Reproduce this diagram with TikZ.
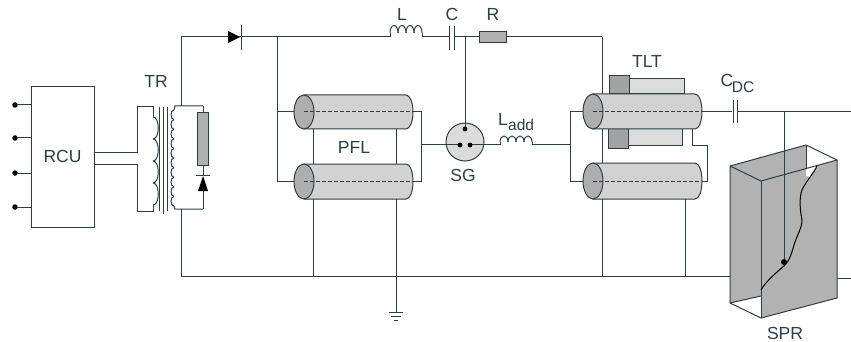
\documentclass[tikz,border=0pt]{standalone}
\usepackage{fontspec}
\setmainfont{Liberation Sans}
\definecolor{wire}{HTML}{2C3E46}
\definecolor{resgray}{HTML}{AFAFAF}
\definecolor{cylgray}{HTML}{D2D2D2}
\definecolor{capgray}{HTML}{AEAEAE}
\definecolor{sleevedark}{HTML}{A2A2A2}
\definecolor{sleevelight}{HTML}{DCDCDC}
\definecolor{sprgray}{HTML}{B2B2B2}
\tikzset{
  cable/.style={draw=wire,line width=1pt},
  lbl/.style={text=wire,font=\fontsize{17.5}{17.5}\selectfont,inner sep=0pt},
  resistor/.style={draw=wire,line width=0.95pt,fill=resgray,inner sep=0pt},
  block/.style={draw=wire,line width=1pt,fill=white,inner sep=0pt},
  dotnode/.style={circle,fill=black,inner sep=0pt,minimum size=4.8pt},
  axis/.style={draw=wire,line width=1pt,dashed,dash pattern=on 4pt off 2pt},
  plate/.style={draw=wire,line width=1pt}
}
% horizontal scallops: start x, base y, bump width, count
\newcommand{\hcoil}[5]{%
  \foreach \i in {1,...,#4}{%
    \pgfmathsetmacro{\xa}{#1+(\i-1)*#3}\pgfmathsetmacro{\xb}{#1+\i*#3}%
    \draw[cable] (\xa,#2) .. controls (\xa,#2-#5) and (\xb,#2-#5) .. (\xb,#2);}}
% vertical scallops: x, start y, bump height, count, bulge (signed)
\newcommand{\vcoil}[5]{%
  \foreach \i in {1,...,#4}{%
    \pgfmathsetmacro{\ya}{#2+(\i-1)*#3}\pgfmathsetmacro{\yb}{#2+\i*#3}%
    \draw[cable] (#1,\ya) .. controls (#1+#5,\ya) and (#1+#5,\yb) .. (#1,\yb);}}
% cylinder: left-centre x, right x, centre y, half height
\newcommand{\cylinder}[4]{%
  \pgfmathsetmacro{\yt}{#3-#4}\pgfmathsetmacro{\yb}{#3+#4}%
  \pgfmathsetmacro{\xs}{#2-7}\pgfmathsetmacro{\xc}{#2-3}%
  \pgfmathsetmacro{\yu}{#3-#4*0.55}\pgfmathsetmacro{\yl}{#3+#4*0.55}%
  \draw[cable,fill=cylgray] (#1,\yt) -- (\xs,\yt) .. controls (\xc,\yt) and (#2,\yu) .. (#2,#3)
     .. controls (#2,\yl) and (\xc,\yb) .. (\xs,\yb) -- (#1,\yb) -- cycle;
  \draw[cable,fill=capgray] (#1,#3) ellipse [x radius=10,y radius=#4];}
\begin{document}
\begin{tikzpicture}[x=1pt,y=-1pt]
\useasboundingbox (0,0) rectangle (851,342);
% control unit and inputs
\node[block,minimum width=63pt,minimum height=140pt] (rcu) at (62.5,157) {};
\node[lbl] (rcutxt) at (62.5,156) {RCU};
\foreach \n/\y in {a/105,b/138,c/173,d/207}{
  \node[dotnode,minimum size=5.5pt] (in\n) at (15,\y) {};
  \draw[cable] (in\n) -- (in\n -| rcu.west);
}
% transformer
\coordinate (pt) at (153,107); \coordinate (pb) at (153,211);
\coordinate (ra) at (94,152); \coordinate (rb) at (94,164);
\draw[cable] (ra) -- (137,152) -- (137,107) -- (pt) -- (153,117);
\draw[cable] (rb) -- (137,164) -- (137,211) -- (pb) -- (153,205);
\vcoil{153}{117}{22}{4}{7}
\draw[cable] (159.5,107) -- (159.5,211);
\draw[cable] (163.5,107) -- (163.5,214);
\draw[cable] (167,107) -- (167,211);
\vcoil{174}{110}{9.6}{10}{-4}
\coordinate (st) at (181,106); \coordinate (sb) at (181,209);
\coordinate (cr) at (203,106); \coordinate (dr) at (203,209);
\draw[cable] (174,110) -- (175,106) -- (cr);
\draw[cable] (174,206) -- (175,209) -- (dr);
\node[resistor,minimum width=11pt,minimum height=53pt] (rs) at (203,138.5) {};
\draw[cable] (cr) -- (rs.north);
\draw[cable] (rs.south) -- (203,176);
\draw[cable] (203,190) -- (dr);
\fill[black] (203,176) -- (208,191) -- (198,191) -- cycle;
\draw[plate] (196,175.5) -- (210,175.5);
\node[lbl] (trl) at (156,81) {TR};
% top line
\coordinate (tl) at (181,37); \coordinate (jb) at (277,37);
\coordinate (bl) at (181,276); \coordinate (sprl) at (730,276);
\draw[cable] (st) -- (tl) -- (390,37) -- (390,33);
\fill[black] (228,31) -- (240,37) -- (228,43) -- cycle;
\draw[plate] (241,25) -- (241,50);
\hcoil{390}{33}{8}{4}{10}
\draw[cable] (422,33) -- (422,37) -- (449,37);
\draw[plate] (449.5,26) -- (449.5,50);
\draw[plate] (454.5,26) -- (454.5,50);
\node[resistor,minimum width=27pt,minimum height=11pt] (rr) at (492.5,37) {};
\draw[cable] (454.5,37) -- (rr.west);
\coordinate (tc) at (602.1,37);
\draw[cable] (rr.east) -- (tc);
\draw[cable] (tc) -- (602.1,276);
\node[lbl] (ll) at (402,14) {L};
\node[lbl] (cl) at (452,14) {C};
\node[lbl] (rl) at (493,14) {R};
% bus and return line
\draw[cable] (sb) -- (bl) -- (sprl);
\draw[cable] (jb) -- (277,181) -- (304,181);
\draw[cable] (277,112) -- (304,112);
\foreach \x in {313,396}{\draw[cable] (\x,129) -- (\x,276);}
\draw[cable] (396,276) -- (396,312);
\draw[cable] (389,312) -- (403,312);
\draw[cable] (391,316) -- (401,316);
\draw[cable] (394,320) -- (398,320);
% PFL
\cylinder{304}{413}{112}{17}
\cylinder{304}{413}{181.5}{17.5}
\draw[axis] (304,112) -- (413,112);
\draw[axis] (304,181.5) -- (413,181.5);
\draw[cable] (413,112) -- (421,112) -- (421,181.5) -- (413,181.5);
\node[lbl] (pfl) at (354,147) {PFL};
% spark gap
\node[circle,draw=wire,line width=1pt,fill=cylgray!80,minimum size=38pt,inner sep=0pt] (sg) at (465,142) {};
\draw[cable] (421,145) -- (460,145);
\draw[cable] (465,37) -- (465,129);
\draw[cable] (470,145) -- (500,145) -- (500,142);
\node[dotnode] (ea) at (465,129) {};
\node[dotnode] (eb) at (460,145) {};
\node[dotnode] (ec) at (470,145) {};
\node[lbl] (sgl) at (463,175) {SG};
\hcoil{500}{142}{8}{4}{8}
\draw[cable] (532,142) -- (532,145) -- (570,145);
\node[lbl,anchor=west] (ladd) at (498,119) {L};
\node[lbl,anchor=west,font=\fontsize{15.5}{15.5}\selectfont] (laddb) at (508,125) {add};
% TLT
\draw[cable] (685,199) -- (685,276);
\draw[cable] (593,112) -- (570,112) -- (570,181) -- (593,181);
\draw[cable,fill=sleevelight] (629,79) rectangle (684,94);
\draw[cable,fill=sleevedark] (609,76) rectangle (629,94);
\draw[cable,fill=sleevelight] (628,129) rectangle (682,146);
\draw[cable,fill=sleevedark] (608,129) rectangle (628,148);
\draw[cable] (692,129) -- (692,146) -- (707,146) -- (707,181) -- (700,181);
\cylinder{593}{702}{111.5}{17.5}
\cylinder{593}{702}{181}{18}
\draw[axis] (593,112) -- (702,112);
\draw[axis] (593,181) -- (700,181);
\node[lbl] (tlt) at (647,61) {TLT};
\draw[cable] (702,112) -- (732,112);
\draw[plate] (733,100) -- (733,123);
\draw[plate] (737.5,100) -- (737.5,123);
\draw[cable] (737.5,112) -- (851,112);
\node[lbl] (cdc) at (727,80) {C};
\node[lbl,font=\fontsize{15.5}{15.5}\selectfont] (cdcb) at (743,87) {DC};
% SPR
\draw[cable] (837,278) -- (851,278);
\fill[sprgray] (730,166) -- (806,145) -- (837,160) -- (837,298) -- (761,318) -- (730,303) -- cycle;
\fill[white] (806,145) -- (837,160) -- (806,168.5) -- cycle;
\fill[white] (730,303) -- (761,296) -- (761,318) -- cycle;
\fill[white] (806,168.5) -- (817,165.5) .. controls (816,170) and (813,174) .. (810,177) -- (806,176) -- cycle;
\draw[cable] (784,112) -- (784,262);
\node[dotnode,minimum size=6pt] (probe) at (784,262) {};
\draw[cable,line join=round] (730,166) -- (806,145) -- (837,160) -- (837,298) -- (761,318) -- (730,303) -- cycle;
\draw[cable] (730,166) -- (761,181) -- (837,160);
\draw[cable] (761,181) -- (761,318);
\draw[cable] (806,145) -- (806,168.5);
\draw[cable] (730,303) -- (761,296);
\draw[draw=black,line width=1pt] (817,165.5) .. controls (815,172) and (806,181) .. (802,190)
  .. controls (799,198) and (800,210) .. (802,220)
  .. controls (802,228) and (797,235) .. (794,245)
  .. controls (792,252) and (790,260) .. (785,265)
  .. controls (776,273) and (766,281) .. (761,290);
\node[lbl] (spr) at (785,333) {SPR};
\end{tikzpicture}
\end{document}
